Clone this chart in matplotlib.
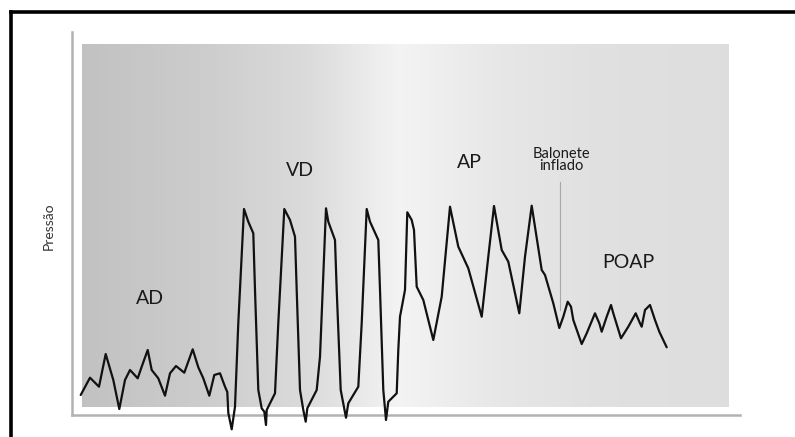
import numpy as np
import matplotlib
matplotlib.use("Agg")
import matplotlib.pyplot as plt
from matplotlib.lines import Line2D
from matplotlib.colors import LinearSegmentedColormap

# curva de pressao (tempo e pressao em unidades arbitrarias)
tempo = [8.7, 18, 27, 33.7, 41.3, 47.3, 53, 58, 65.7, 69.7,
         75.7, 79.7, 86.3, 93, 98, 104, 112.3, 120.7, 126.3, 131.3,
         137.3, 142.3, 148, 153, 155.3, 156.3, 159.7, 163, 166.3, 172,
         176.3, 181.3, 183, 186.3, 189.7, 192.3, 194, 194.7, 203, 206.3,
         212.3, 218, 223, 224.7, 228, 231.3, 233.7, 235.3, 244.7, 248,
         254, 256.3, 263, 264.7, 268.7, 274, 276.3, 286.3, 289.7, 294.7,
         298, 306.3, 308, 311.3, 314, 316.3, 324.7, 326.3, 328, 333,
         335.3, 339.7, 342, 344.7, 351.3, 361.3, 369.7, 378, 386.3, 396.3,
         409.7, 416.3, 422, 429.7, 436.3, 447.3, 453, 459.7, 469.7, 473,
         481.3, 487.3, 491.3, 495.7, 499, 501.3, 509.7, 514.7, 523, 527.3,
         529.7, 534.7, 539, 541.3, 549, 556.3, 563.7, 568, 569.7, 573,
         578, 583, 587.3, 594.7]
pressao = [20, 37.3, 28.3, 61, 35, 6, 35, 45, 36.7, 48.3,
           65, 45, 36.7, 19.3, 41.7, 49, 42.3, 65.7, 47.7, 36.7,
           19.3, 40, 41.7, 28.3, 23, 2, -14.3, 8.3, 92, 206,
           193.3, 181.7, 125, 25, 6.7, 3.3, -10, 5, 21.7, 92,
           206, 195, 178.3, 125, 25, 5, -6.7, 6.7, 25, 58.3,
           206.7, 193.3, 175, 125, 25, -2.7, 11.7, 28.3, 92, 206,
           193.3, 175, 125, 25, -5, 13.3, 21.7, 65, 98.3, 125,
           202.7, 195, 185, 128.3, 115, 75, 118.3, 208.3, 168.3, 146.7,
           98.3, 158.3, 209, 165, 153.3, 101.7, 158.3, 209.3, 145, 140,
           111.7, 87, 98.3, 113.3, 108.3, 95, 71, 81.7, 101.7, 91.7,
           83.3, 98.3, 110, 101.7, 76.7, 88.3, 101.7, 91.7, 88.3, 105,
           110, 95, 83.3, 67.7]

# rotulos das fases
fases = ["AD", "VD", "AP", "POAP"]
fases_x = [78, 228, 397, 556]
fases_y = [117, 245, 253, 152]

balonete_x = 488
balonete_y = [105, 233]

fig = plt.figure(figsize=(7.95, 4.37), dpi=100)
ax = fig.add_axes([0, 0, 1, 1])
ax.set_xlim(-72, 723)
ax.set_ylim(-22, 415)

# fundo em degrade (escuro -> claro -> cinza)
cmap = LinearSegmentedColormap.from_list("fundo", [
    (0.0, (0.76, 0.76, 0.76)),
    (0.18, (0.80, 0.80, 0.80)),
    (0.35, (0.86, 0.86, 0.86)),
    (0.49, (0.955, 0.955, 0.955)),
    (0.65, (0.905, 0.905, 0.905)),
    (0.8, (0.88, 0.88, 0.88)),
    (1.0, (0.87, 0.87, 0.87)),
])
grad = np.linspace(0, 1, 400).reshape(1, -1)
ax.imshow(grad, cmap=cmap, vmin=0, vmax=1, aspect="auto",
          extent=[10, 657, 8, 371], zorder=0, interpolation="bilinear")

# eixos
for s in ["top", "right"]:
    ax.spines[s].set_visible(False)
ax.spines["left"].set_position(("data", 0))
ax.spines["bottom"].set_position(("data", 0))
ax.spines["left"].set_bounds(0, 383)
ax.spines["bottom"].set_bounds(0, 668)
for s in ["left", "bottom"]:
    ax.spines[s].set_color("#b2b2b2")
    ax.spines[s].set_linewidth(1.8)
ax.set_xticks([])
ax.set_yticks([])

ax.plot(tempo, pressao, color="#111111", lw=1.6,
        solid_joinstyle="round", solid_capstyle="round", zorder=3)

ax.plot([balonete_x, balonete_x], balonete_y, color="#a8a8a8", lw=0.8, zorder=2)

fonte = ["Lato", "DejaVu Sans"]
for nome, x, y in zip(fases, fases_x, fases_y):
    ax.text(x, y, nome, ha="center", va="center", fontsize=14,
            family=fonte, color="#1a1a1a")
ax.text(balonete_x + 1, 255, "Balonete\ninflado", ha="center", va="center",
        fontsize=10.5, family=fonte, color="#1a1a1a", linespacing=0.85)
ax.text(-23, 189, "Pressão", rotation=90, ha="center", va="center",
        fontsize=10, family=fonte, color="#333333")

# moldura preta (topo e esquerda)
fig.add_artist(Line2D([10.5 / 795, 1], [1 - 11.5 / 437] * 2, color="black",
                      lw=2.6, transform=fig.transFigure))
fig.add_artist(Line2D([10.5 / 795] * 2, [0, 1 - 11.5 / 437], color="black",
                      lw=2.6, transform=fig.transFigure))

fig.savefig("out.png", dpi=100)
